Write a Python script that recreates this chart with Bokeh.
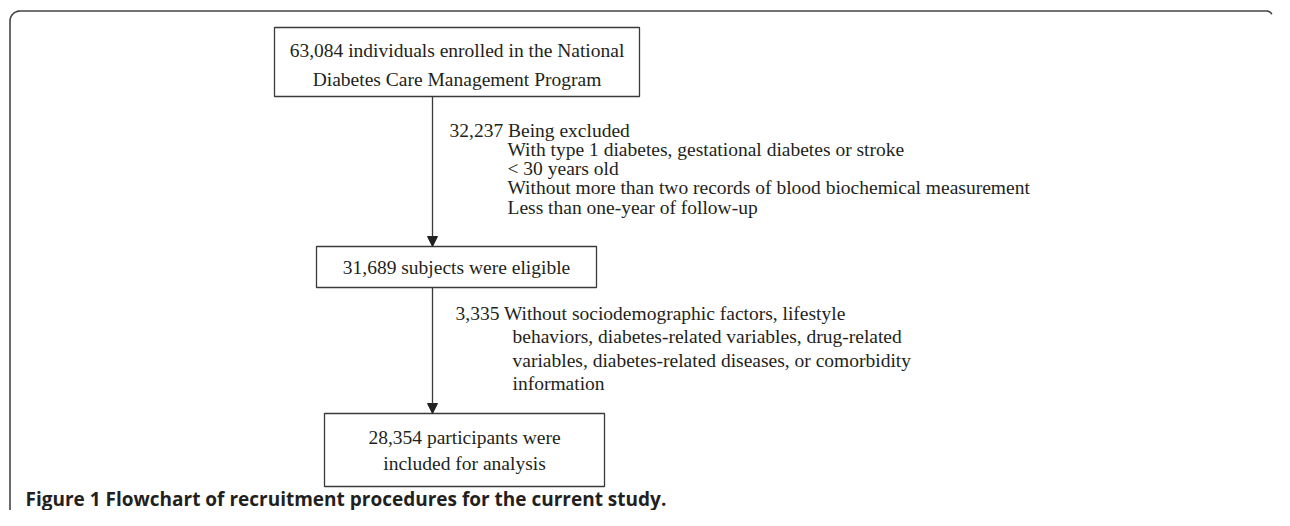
import numpy as np
from bokeh.plotting import figure
from bokeh.models import Range1d, Arrow, NormalHead, ColumnDataSource
from bokeh.core.properties import value
from bokeh.embed import file_html
from bokeh.resources import INLINE

# ---------------- content ----------------
box1_lines = ["63,084 individuals enrolled in the National",
              "Diabetes Care Management Program"]
box2_lines = ["31,689 subjects were eligible"]
box3_lines = ["28,354 participants were", "included for analysis"]
excl1_head = "32,237 Being excluded"
excl1_items = ["With type 1 diabetes, gestational diabetes or stroke",
               " < 30 years old",
               "Without more than two records of blood biochemical measurement",
               "Less than one-year of follow-up"]
excl2_head = "3,335 Without sociodemographic factors, lifestyle"
excl2_items = ["behaviors, diabetes-related variables, drug-related",
               "variables, diabetes-related diseases, or comorbidity",
               "information"]
caption = "Figure 1 Flowchart of recruitment procedures for the current study."

# ---------------- layout (picture pixels) ----------------
W, H = 1274, 510
SERIF = value("Liberation Serif, DejaVu Serif, serif")
TXT = "#231f20"
LINE = "#3a3a3a"
FS = "19.5px"

p = figure(width=W, height=H, output_backend="svg", toolbar_location=None,
           x_range=Range1d(0, W), y_range=Range1d(H, 0),
           min_border=0, outline_line_color=None)
p.axis.visible = False
p.grid.visible = False
p.background_fill_color = "white"
p.border_fill_color = "white"

# outer frame with rounded top-left corner and a small hook at the right end
r = 10
t = np.linspace(np.pi, 1.5 * np.pi, 12)
arc_x = 9.5 + r + r * np.cos(t)
arc_y = 10.5 + r + r * np.sin(t)
t2 = np.linspace(1.5 * np.pi, 1.85 * np.pi, 6)
arc2_x = 1266 + 6 * np.cos(t2)
arc2_y = 16.5 + 6 * np.sin(t2)
fx = np.concatenate([[9.5], arc_x, arc2_x])
fy = np.concatenate([[540], arc_y, arc2_y])
p.line(fx, fy, line_color="#444444", line_width=1.6)

# boxes
boxes = ColumnDataSource(dict(left=[274, 316, 324], right=[639, 596, 604],
                              top=[27, 246, 413], bottom=[96, 287, 486]))
p.quad(left="left", right="right", top="top", bottom="bottom", source=boxes,
       fill_color="white", line_color=LINE, line_width=1.3)

# arrows
AX = 432
for y_start, y_end in [(96, 246), (287, 413)]:
    p.add_layout(Arrow(x_start=AX, y_start=y_start, x_end=AX, y_end=y_end,
                       line_color=LINE, line_width=1.3,
                       end=NormalHead(size=10, fill_color="#222222",
                                      line_color="#222222", line_width=1)))

def txt(xs, ys, texts, align="left", size=FS, font=SERIF, style="normal"):
    p.text(x=xs, y=ys, text=texts, text_align=align, text_baseline="middle",
           text_font=font, text_font_size=size, text_color=TXT,
           text_font_style=style)

# box texts
txt([456.5] * 2, [50, 79], box1_lines, align="center")
txt([456], [267], box2_lines, align="center")
txt([464] * 2, [437, 463], box3_lines, align="center")

# exclusions
txt([449], [130], [excl1_head])
txt([507] * 4, [149, 168, 187, 207], excl1_items)
txt([455], [313], [excl2_head])
txt([512] * 3, [336, 360, 383], excl2_items)

# caption
txt([25], [498], [caption], size="19px", font=value("Open Sans"), style="bold")

open("out.html", "w").write(file_html(p, INLINE))
